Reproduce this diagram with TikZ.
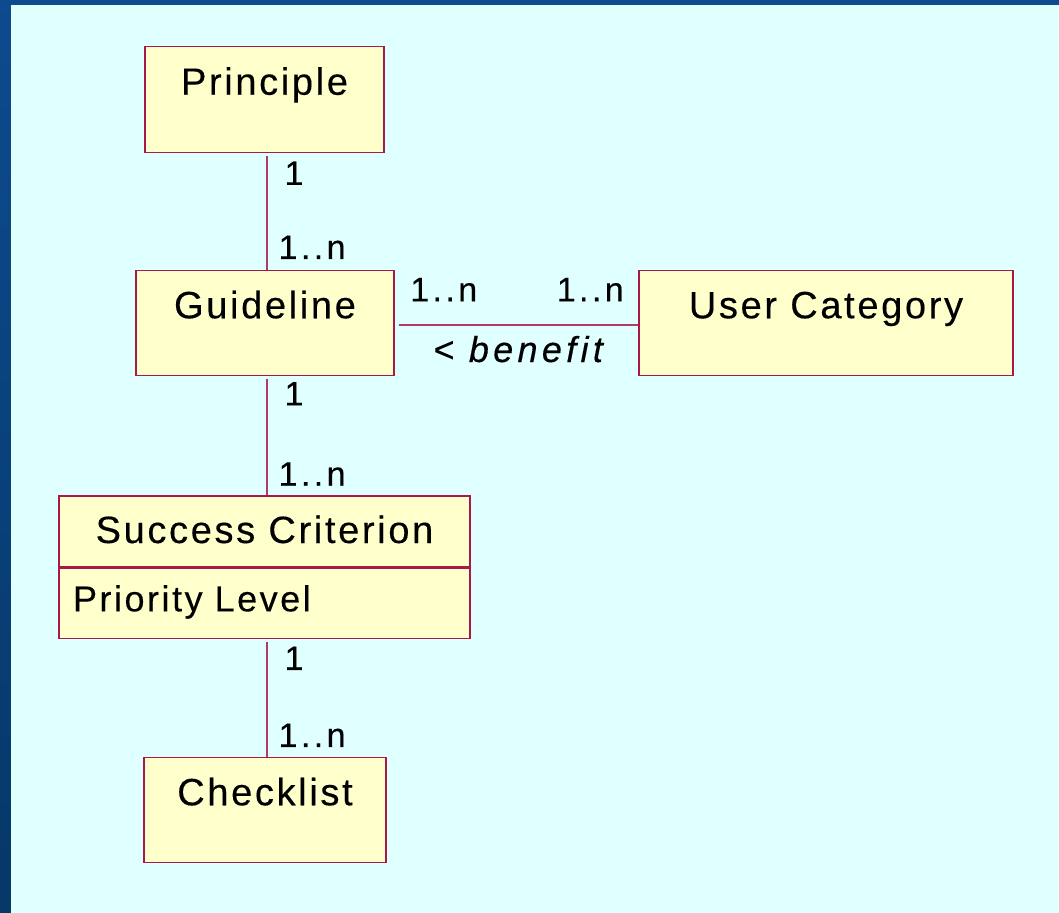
\documentclass[tikz,border=0pt]{standalone}
\usepackage{fontspec}
\setmainfont{Liberation Sans}[LetterSpace=7,FakeBold=0.3]
\usetikzlibrary{positioning}

\definecolor{bgtop}{HTML}{0D4A8E}
\definecolor{bgbot}{HTML}{063868}
\definecolor{paper}{HTML}{E0FFFF}
\definecolor{clsfill}{HTML}{FFFFCC}
\definecolor{clsline}{HTML}{A8184A}
\definecolor{asline}{HTML}{B03A6A}

\begin{document}
\begin{tikzpicture}[x=1pt, y=-1pt, font=\fontsize{38}{44}\selectfont,
  cls/.style={draw=clsline,fill=clsfill,line width=1.3pt,inner sep=0pt,minimum width=#1,text height=48pt,text depth=57.5pt},
  assoc/.style={draw=asline,line width=1.3pt},
  mult/.style={font=\fontsize{34}{40}\selectfont\addfontfeature{LetterSpace=10},inner sep=0pt}]
% background
\useasboundingbox (0,0) rectangle (1059,912);
\shade[top color=bgtop,bottom color=bgbot] (0,0) rectangle (1059,912);
\fill[paper] (11,5) rectangle (1070,925);

% classes
\node[cls=239pt] (prin) at (264.5,99.5) {Principle};
\node[cls=258pt] (guide) at (265,323) {Guideline};
\node[cls=374pt] (ucat) at (826,323) {User Category};
\node[cls=411pt,text height=47pt,text depth=24pt] (succ) at (264.5,531.5) {Success Criterion};
\node[cls=411pt,below=0pt of succ,text height=43pt,text depth=27pt,text width=383pt,align=left,inner xsep=14pt,
  font=\fontsize{36}{42}\selectfont] (prio) {Priority Level};
\node[cls=242pt] (check) at (265,810) {Checklist};

% associations
\draw[assoc] ([xshift=2.5pt,yshift=-3pt]prin.south) --
  node[mult,pos=0,anchor=north west,xshift=17pt,yshift=-5pt] {1}
  node[mult,pos=1,anchor=south west,xshift=11pt,yshift=10pt] {1..n} ([xshift=2pt]guide.north);
\draw[assoc] ([xshift=2pt,yshift=-3pt]guide.south) --
  node[mult,pos=0,anchor=north west,xshift=17pt,yshift=-2pt] {1}
  node[mult,pos=1,anchor=south west,xshift=11pt,yshift=9pt] {1..n} ([xshift=2.5pt]succ.north);
\draw[assoc] ([xshift=2.5pt,yshift=-3pt]prio.south) --
  node[mult,pos=0,anchor=north west,xshift=17pt,yshift=-4pt] {1}
  node[mult,pos=1,anchor=south west,xshift=11pt,yshift=9pt] {1..n} ([xshift=2pt]check.north);
\draw[assoc] ([xshift=4pt,yshift=-2pt]guide.east) --
  node[mult,pos=0,anchor=south west,xshift=11pt,yshift=23pt] {1..n}
  node[mult,pos=1,anchor=south east,xshift=-14pt,yshift=23pt] {1..n}
  node[mult,midway,anchor=base,xshift=2.5pt,yshift=-37pt,font=\fontsize{36}{40}\selectfont\addfontfeature{LetterSpace=12}] {< \textit{benefit}} ([yshift=-2pt]ucat.west);
\end{tikzpicture}
\end{document}
